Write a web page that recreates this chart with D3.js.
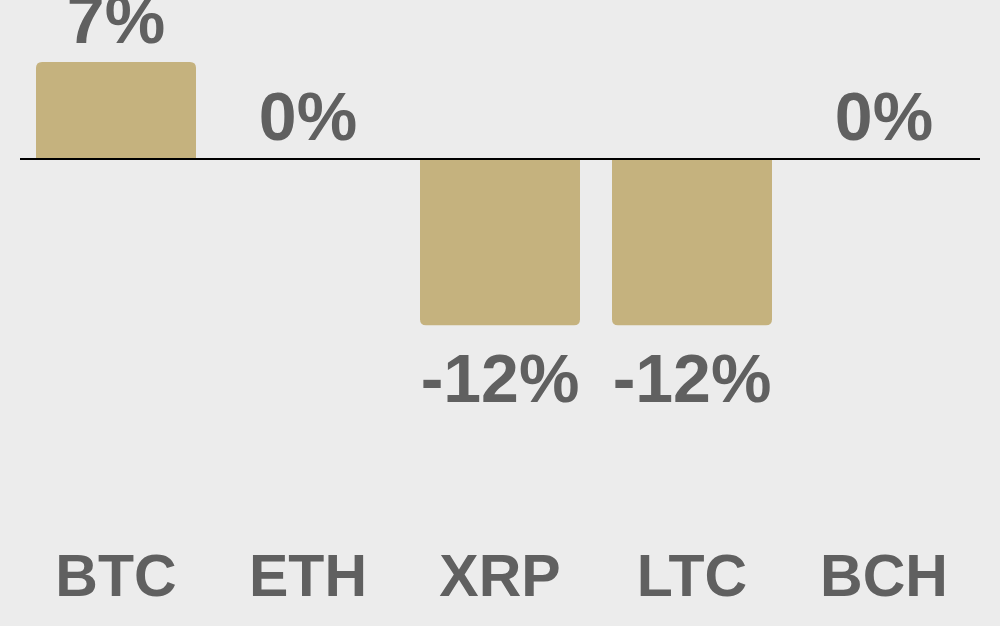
<!DOCTYPE html>
<html>
<head>
<meta charset="utf-8">
<script src="https://cdn.jsdelivr.net/npm/d3@7"></script>
<style>
  html, body { margin: 0; padding: 0; background: #ececec; }
  svg { display: block; }
</style>
</head>
<body>
<svg id="chart" width="1000" height="626"></svg>
<script>
const categories = ["BTC", "ETH", "XRP", "LTC", "BCH"];
const values = [7, 0, -12, -12, 0];
const valueLabels = ["7%", "0%", "-12%", "-12%", "0%"];

const W = 1000, H = 626;
const svg = d3.select("#chart");
svg.append("rect").attr("width", W).attr("height", H).attr("fill", "#ececec");

const x = d3.scaleBand().domain(categories).range([20, 980]).paddingInner(1/6).paddingOuter(1/12);
const y = d3.scaleLinear().domain([-12, 7]).range([325.3, 62]);

const barColor = "#c5b27e";
const textColor = "#606060";
const r = 6;

function barPath(cx0, w, y0, y1) {
  if (Math.abs(y1 - y0) < 0.01) return "";
  const x0 = cx0, x1 = cx0 + w;
  const rr = Math.min(r, Math.abs(y1 - y0));
  if (y1 < y0) {
    return `M${x0},${y0}V${y1 + rr}Q${x0},${y1} ${x0 + rr},${y1}H${x1 - rr}Q${x1},${y1} ${x1},${y1 + rr}V${y0}Z`;
  } else {
    return `M${x0},${y0}V${y1 - rr}Q${x0},${y1} ${x0 + rr},${y1}H${x1 - rr}Q${x1},${y1} ${x1},${y1 - rr}V${y0}Z`;
  }
}

const data = categories.map((c, i) => ({ c, v: values[i], label: valueLabels[i] }));

svg.append("g").selectAll("path")
  .data(data)
  .join("path")
  .attr("d", d => barPath(x(d.c), x.bandwidth(), y(0), y(d.v)))
  .attr("fill", barColor);

svg.append("line")
  .attr("x1", 20).attr("x2", 980)
  .attr("y1", y(0)).attr("y2", y(0))
  .attr("stroke", "#000").attr("stroke-width", 2);

svg.append("g").selectAll("text")
  .data(data)
  .join("text")
  .attr("x", d => x(d.c) + x.bandwidth() / 2)
  .attr("y", d => d.v < 0 ? y(d.v) + 76.5 : y(d.v) - 19.5)
  .attr("text-anchor", "middle")
  .attr("font-family", "'Liberation Sans', Arial, sans-serif")
  .attr("font-weight", "bold")
  .attr("font-size", 68)
  .attr("fill", textColor)
  .text(d => d.label);

svg.append("g").selectAll("text")
  .data(categories)
  .join("text")
  .attr("x", d => x(d) + x.bandwidth() / 2)
  .attr("y", 596)
  .attr("text-anchor", "middle")
  .attr("font-family", "'Liberation Sans', Arial, sans-serif")
  .attr("font-weight", "bold")
  .attr("font-size", 59)
  .attr("fill", textColor)
  .text(d => d);
</script>
</body>
</html>
